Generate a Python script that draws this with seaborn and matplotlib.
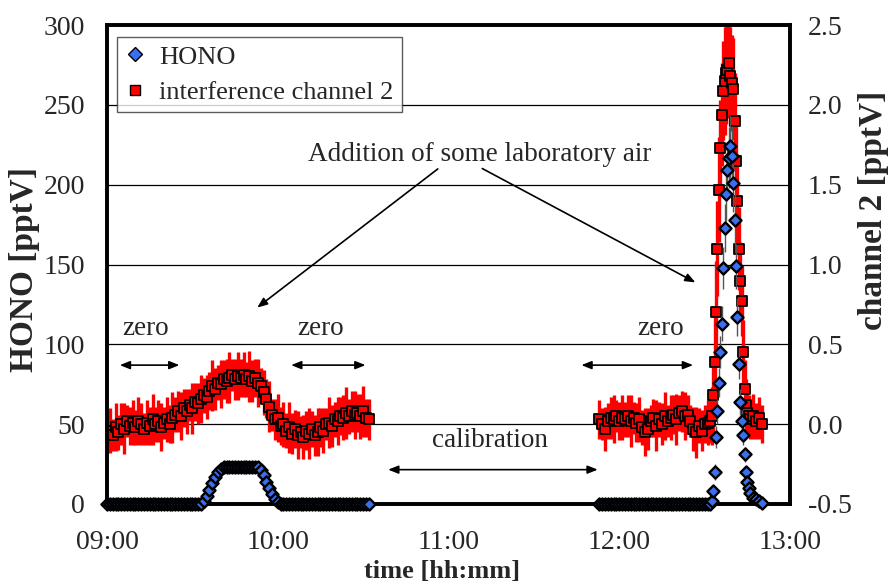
import numpy as np
import pandas as pd
import matplotlib
matplotlib.use("Agg")
import matplotlib.pyplot as plt
from matplotlib.lines import Line2D
import seaborn as sns

# ---------------------------------------------------------------------------
# Measurement data (time in minutes after 09:00)
# ---------------------------------------------------------------------------
# first zero / lab-air period, 1-min resolution
t_seg1 = np.arange(0, 93, 1.0)
# second zero period + lab-air peak (30 s resolution around the peak)
t_seg2 = np.concatenate([np.arange(173, 212, 1.0),
                         np.arange(212, 226, 0.5),
                         np.arange(226, 231, 1.0)])

hono_seg1 = [0] * 33 + [0, 2, 5, 9, 13, 17, 20, 22, 23, 23, 23, 23, 23, 23,
                        23, 23, 23, 23, 23, 23, 23, 21, 18, 14, 10, 6, 3, 1, 0] + [0] * 31

ch2_seg1 = [-0.06, -0.04, -0.07, -0.02, -0.05, 0.00, -0.03, 0.02, -0.01, 0.01,
            -0.02, 0.02, 0.00, -0.03, 0.01, -0.01, 0.03, 0.00, 0.02, -0.02,
            0.01, 0.03, 0.00, 0.04, 0.06, 0.08, 0.05, 0.10, 0.08, 0.12,
            0.10, 0.14, 0.13, 0.16, 0.18, 0.17, 0.21, 0.24, 0.22, 0.26,
            0.25, 0.28, 0.27, 0.29, 0.31, 0.28, 0.30, 0.29, 0.31, 0.28,
            0.30, 0.27, 0.29, 0.26, 0.24, 0.20, 0.16, 0.11, 0.06, 0.03,
            0.04, -0.01, 0.00, -0.04, -0.02, -0.06, -0.03, -0.07, -0.05, -0.08,
            -0.04, -0.06, -0.03, -0.07, -0.05, -0.02, -0.04, 0.00, 0.01, -0.01,
            0.03, 0.02, 0.05, 0.04, 0.07, 0.05, 0.08, 0.06, 0.07, 0.05,
            0.08, 0.04, 0.03]

ch2_err_seg1 = [0.12, 0.14, 0.10, 0.15, 0.11, 0.13, 0.16, 0.10, 0.12, 0.14,
                0.11, 0.15, 0.13, 0.10, 0.14, 0.12, 0.16, 0.11, 0.13, 0.15,
                0.10, 0.14, 0.12, 0.16, 0.11, 0.13, 0.15, 0.12, 0.14, 0.10,
                0.16, 0.12, 0.13, 0.15, 0.11, 0.14, 0.12, 0.16, 0.13, 0.11,
                0.15, 0.12, 0.14, 0.16, 0.10, 0.13, 0.15, 0.12, 0.14, 0.11,
                0.16, 0.13, 0.12, 0.15, 0.11, 0.14, 0.12, 0.16, 0.10, 0.13,
                0.15, 0.12, 0.14, 0.11, 0.16, 0.13, 0.12, 0.15, 0.10, 0.14,
                0.12, 0.16, 0.11, 0.13, 0.15, 0.12, 0.14, 0.10, 0.16, 0.13,
                0.11, 0.15, 0.12, 0.14, 0.16, 0.11, 0.13, 0.15, 0.12, 0.14,
                0.16, 0.12, 0.13]

hono_seg2 = [0] * 39 + [0, 2, 8, 20, 42, 58, 76, 95, 113, 148, 173, 194, 209, 217,
                        224, 218, 201, 178, 149, 117, 88, 64, 52, 43, 31, 20, 14, 10,
                        7, 4, 3, 2, 0.5]

hono_err_seg2 = [0] * 39 + [0, 1, 3, 5, 7, 8, 9, 10, 11, 13, 15, 17, 18, 19,
                            20, 19, 18, 16, 14, 12, 10, 8, 7, 6, 5, 3, 2, 1,
                            1, 0, 0, 0, 0]

ch2_seg2 = [0.03, 0.00, -0.03, 0.02, 0.04, 0.03, 0.05, 0.02, 0.04, 0.03,
            0.05, 0.02, 0.04, 0.01, 0.03, -0.02, -0.05, -0.03, 0.02, 0.04,
            -0.01, 0.03, 0.00, 0.05, 0.02, 0.04, 0.06, 0.03, 0.07, 0.08,
            0.05, 0.06, 0.02, -0.03, -0.05, -0.01, -0.04, 0.00, 0.01,
            0.02, 0.05, 0.18, 0.39, 0.70, 1.10, 1.47, 1.73, 1.94, 2.09,
            2.15, 2.20, 2.22, 2.26, 2.18, 2.14, 2.10, 1.90, 1.65, 1.40,
            1.10, 0.90, 0.77, 0.45, 0.22, 0.12, 0.07, 0.05,
            0.03, 0.05, 0.02, 0.04, 0.00]

ch2_err_seg2 = [0.12, 0.10, 0.14, 0.11, 0.13, 0.15, 0.10, 0.12, 0.14, 0.11,
                0.13, 0.16, 0.10, 0.12, 0.14, 0.11, 0.15, 0.13, 0.10, 0.12,
                0.16, 0.11, 0.13, 0.15, 0.10, 0.14, 0.12, 0.16, 0.11, 0.13,
                0.15, 0.12, 0.10, 0.14, 0.16, 0.11, 0.13, 0.12, 0.14,
                0.14, 0.18, 0.25, 0.30, 0.32, 0.30, 0.33, 0.30, 0.32, 0.31,
                0.34, 0.32, 0.30, 0.33, 0.31, 0.30, 0.32, 0.30, 0.28, 0.29,
                0.26, 0.24, 0.22, 0.20, 0.18, 0.16, 0.14, 0.13,
                0.12, 0.14, 0.11, 0.13, 0.12]

tick_minutes = [0, 60, 120, 180, 240]
tick_labels = ["09:00", "10:00", "11:00", "12:00", "13:00"]

# ---------------------------------------------------------------------------
df = pd.DataFrame({
    "t": np.concatenate([t_seg1, t_seg2]),
    "HONO": np.concatenate([hono_seg1, hono_seg2]).astype(float),
    "ch2": np.concatenate([ch2_seg1, ch2_seg2]),
    "ch2_err": np.concatenate([ch2_err_seg1, ch2_err_seg2]),
})
hono_err = np.concatenate([np.zeros(len(t_seg1)), hono_err_seg2])

sns.set_theme(style="white")
plt.rcParams["font.family"] = ["Liberation Serif", "DejaVu Serif"]

FS_TICK = 20
FS_TEXT = 19.5
FS_LEG = 19
FS_YLAB = 24
FS_XLAB = 19

fig = plt.figure(figsize=(8.92, 5.86), dpi=100)
ax = fig.add_axes([0.12, 0.14, 0.7657, 0.817])   # HONO (left axis)
ax2 = ax.twinx()                                  # channel 2 (right axis)

# channel 2 drawn below, HONO on top
ax.set_zorder(ax2.get_zorder() + 1)
ax.patch.set_visible(False)
ax2.set_facecolor("white")

# ---- channel 2 -----------------------------------------------------------
ax2.errorbar(df["t"], df["ch2"], yerr=df["ch2_err"], fmt="none",
             ecolor="#ff0000", elinewidth=2.4, capsize=0, zorder=2)
sns.scatterplot(data=df, x="t", y="ch2", ax=ax2, marker="s", s=55,
                color="#ff0000", edgecolor="black", linewidth=1.3,
                zorder=3, legend=False)

# ---- HONO ----------------------------------------------------------------
mask = hono_err > 0
ax.errorbar(df["t"][mask], df["HONO"][mask], yerr=hono_err[mask], fmt="none",
            ecolor="#555555", elinewidth=1.0, capsize=0, zorder=2)
sns.scatterplot(data=df, x="t", y="HONO", ax=ax, marker="D", s=38,
                color="#3a6ff0", edgecolor="black", linewidth=1.7,
                zorder=3, legend=False, clip_on=False)

# ---- axes ------------------------------------------------------------------
ax.set_xlim(0, 240)
ax.set_ylim(0, 300)
ax2.set_ylim(-0.5, 2.5)
ax.set_xticks(tick_minutes)
ax.set_xticklabels(tick_labels)
ax.set_yticks(np.arange(0, 301, 50))
ax2.set_yticks(np.arange(-0.5, 2.51, 0.5))
ax2.set_yticklabels([f"{v:.1f}" for v in np.arange(-0.5, 2.51, 0.5)])

ax2.grid(axis="y", color="black", linewidth=0.9)
ax.grid(False)
ax2.grid(axis="x", visible=False)

for a in (ax, ax2):
    for s in a.spines.values():
        s.set_linewidth(2.6)
        s.set_color("black")

ax.tick_params(axis="x", direction="in", length=5, width=1, labelsize=FS_TICK, pad=19)
ax.tick_params(axis="y", length=0, labelsize=FS_TICK, pad=16)
ax2.tick_params(axis="y", length=0, labelsize=FS_TICK, pad=13)

ax.set_xlabel("time [hh:mm]", fontsize=FS_XLAB, fontweight="bold")
ax.set_ylabel("HONO [pptV]", fontsize=FS_YLAB, fontweight="bold")
ax2.set_ylabel("channel 2 [pptV]", fontsize=FS_YLAB, fontweight="bold")
ax.xaxis.set_label_coords(0.49, -0.117)
ax.yaxis.set_label_coords(-0.098, 0.489)
ax2.yaxis.set_label_coords(1.1, 0.614)

# ---- legend ----------------------------------------------------------------
handles = [
    Line2D([], [], ls="none", marker="D", markersize=7, markerfacecolor="#3a6ff0",
           markeredgecolor="black", markeredgewidth=1.0),
    Line2D([], [], ls="none", marker="s", markersize=7.5, markerfacecolor="#ff0000",
           markeredgecolor="black", markeredgewidth=1.0),
]
leg = ax.legend(handles, ["HONO", "interference channel 2"], loc="upper left",
                bbox_to_anchor=(0.0146, 0.975), borderaxespad=0, fontsize=FS_LEG,
                frameon=True, fancybox=False, edgecolor="#333333", handlelength=0.8,
                handletextpad=0.5, borderpad=0.3, labelspacing=0.45)
leg.get_frame().set_linewidth(1.0)

# ---- annotations -------------------------------------------------------------
ax.text(131, 219, "Addition of some laboratory air", ha="center", va="center",
        fontsize=FS_TEXT)
arrow_kw = dict(arrowstyle="-|>,head_length=0.5,head_width=0.2", color="black", lw=1.2)
ax.annotate("", xy=(52, 122), xytext=(117, 211), arrowprops=arrow_kw)
ax.annotate("", xy=(207.6, 138), xytext=(131, 211), arrowprops=arrow_kw)

dbl_kw = dict(arrowstyle="<|-|>,head_length=0.5,head_width=0.2", color="black", lw=1.2)
for x0, x1, xc in [(3.5, 26.4, 13.4), (63.7, 91.8, 75), (165.7, 206.9, 194.5)]:
    ax.annotate("", xy=(x0, 87), xytext=(x1, 87), arrowprops=dbl_kw)
    ax.text(xc, 110, "zero", ha="center", va="center", fontsize=FS_TEXT)

ax.annotate("", xy=(97.8, 21.5), xytext=(173.4, 21.5), arrowprops=dbl_kw)
ax.text(134.7, 40, "calibration", ha="center", va="center", fontsize=FS_TEXT)

fig.savefig("out.png", dpi=100)
